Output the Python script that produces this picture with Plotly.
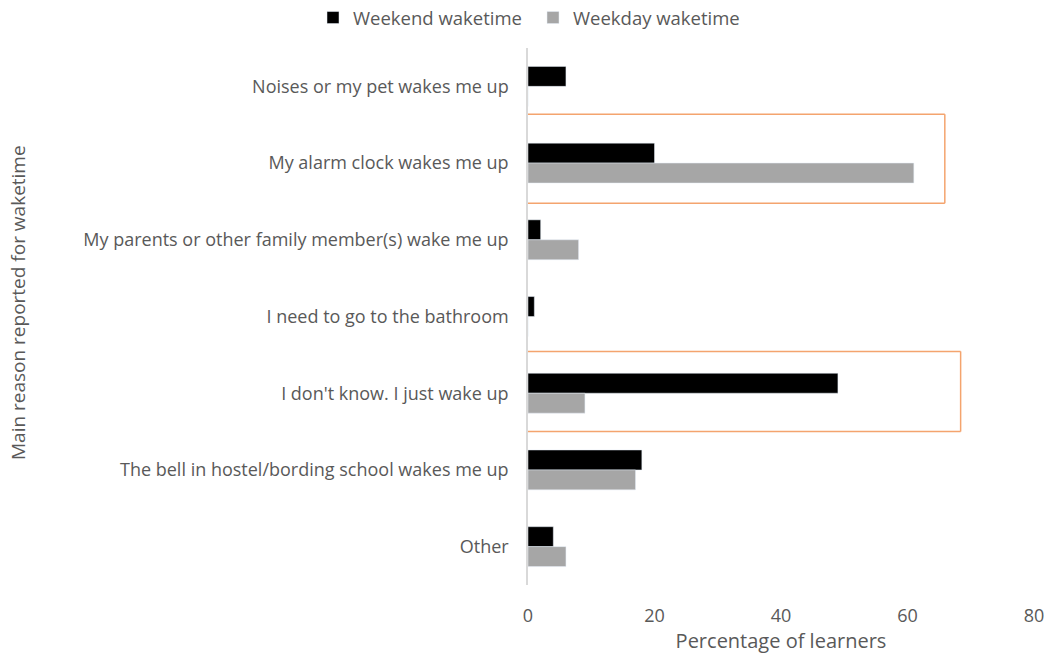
import plotly.graph_objects as go

categories = [
    "Noises or my pet wakes me up",
    "My alarm clock wakes me up",
    "My parents or other family member(s) wake me up",
    "I need to go to the bathroom",
    "I don't know. I just wake up",
    "The bell in hostel/bording school wakes me up",
    "Other",
]
weekend = [6, 20, 2, 1, 49, 18, 4]
weekday = [0, 61, 8, 0, 9, 17, 6]
x_ticks = [0, 20, 40, 60, 80]

FONT = "Open Sans"
TXT = "#595959"

fig = go.Figure()
fig.add_trace(go.Bar(y=categories, x=weekend, orientation="h", name="Weekend waketime",
                     marker=dict(color="#000000")))
fig.add_trace(go.Bar(y=categories, x=weekday, orientation="h", name="Weekday waketime",
                     marker=dict(color="#A6A6A6")))

# orange highlight boxes (open on the left)
orange = "#F4A46E"
boxes = [(0.365, 1.525, 65.9), (3.455, 4.5, 68.4)]
for top, bot, right in boxes:
    fig.add_shape(type="line", xref="x", yref="y", x0=0, x1=right, y0=top, y1=top,
                  line=dict(color=orange, width=1.5))
    fig.add_shape(type="line", xref="x", yref="y", x0=0, x1=right, y0=bot, y1=bot,
                  line=dict(color=orange, width=1.5))
    fig.add_shape(type="line", xref="x", yref="y", x0=right, x1=right, y0=top, y1=bot,
                  line=dict(color=orange, width=1.5))

fig.add_annotation(text="Main reason reported for waketime", xref="paper", yref="paper",
                   x=(18 - 528) / 506, y=(654 - 69 - 303) / 537, textangle=-90,
                   showarrow=False, xanchor="center", yanchor="middle",
                   font=dict(size=19, color=TXT, family=FONT))

fig.update_layout(
    width=1052, height=654,
    margin=dict(l=528, r=18, t=48, b=69, autoexpand=False),
    paper_bgcolor="white", plot_bgcolor="white",
    barmode="group", bargap=0.48, bargroupgap=0,
    font=dict(family=FONT, color=TXT, size=18),
    legend=dict(orientation="h", x=(313 - 528) / 506, xanchor="left", y=(585 - 18) / 537, yanchor="middle",
                font=dict(size=18.5, color=TXT), itemwidth=30, entrywidth=175,
                entrywidthmode="pixels", traceorder="normal"),
    showlegend=True,
)
fig.update_xaxes(range=[0, 80], tickvals=x_ticks, showgrid=False, zeroline=False,
                 showline=False, ticks="outside", ticklen=14, tickcolor="rgba(0,0,0,0)",
                 tickfont=dict(size=18, color=TXT),
                 title=dict(text="Percentage of learners", font=dict(size=20, color=TXT), standoff=14))
fig.update_yaxes(categoryorder="array", categoryarray=categories, autorange="reversed",
                 showgrid=False, zeroline=False, showline=True, linecolor="#D9D9D9", linewidth=1.5,
                 ticks="outside", ticklen=14, tickcolor="rgba(0,0,0,0)",
                 tickfont=dict(size=18, color=TXT))
fig.write_html("out.html")
